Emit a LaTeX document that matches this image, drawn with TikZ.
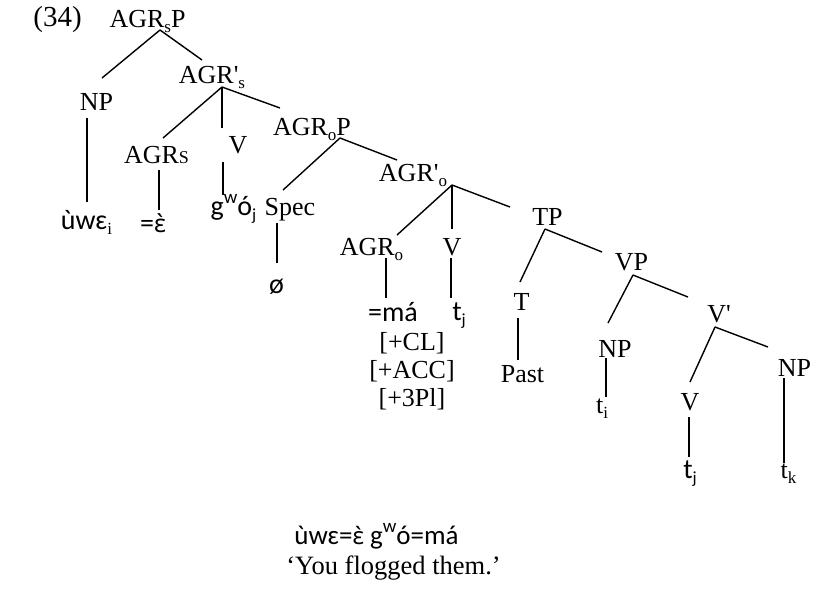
\documentclass[tikz,border=0pt]{standalone}
\usepackage{fontspec}
\setmainfont{Liberation Serif}
\newfontfamily\ipafont{Carlito}
\newfontfamily\markfont[Scale=0.88]{Noto Sans}
\usetikzlibrary{calc}
\newcommand\lsub[1]{\raisebox{-0.2em}{\fontsize{17}{17}\selectfont #1}}
\newcommand\wsup{\raisebox{0.42em}{\fontsize{19}{19}\selectfont w}}
\newcommand\egrave{{\markfont ɛ̀}}
\newcommand\pr{\textquotesingle}
\begin{document}
\begin{tikzpicture}[x=1pt,y=-1pt,
  lab/.style={inner sep=0pt,anchor=base,font=\fontsize{26}{30}\selectfont},
  lex/.style={inner sep=0pt,anchor=base,font=\fontsize{28}{32}\selectfont\ipafont},
  edge/.style={line width=1.4pt}]
\useasboundingbox (0,0) rectangle (827,606);
% labels
\node[lab,font=\fontsize{29}{32}\selectfont] (ex) at (57.5,26) {(34)};
\node[lab] (agrsp) at (147.5,27) {AGR\lsub{s}P};
\node[lab] (np1) at (96.5,110) {NP};
\node[lab] (agrsb) at (212,83) {AGR\pr\lsub{s}};
\node[lab] (agrs) at (156.5,163) {AGR{\fontsize{18}{18}\selectfont S}};
\node[lab] (v1) at (238,153) {V};
\node[lab] (agrop) at (312,135) {AGR\lsub{o}P};
\node[lex] (uwe) at (86.5,229) {ùwɛ{\rmfamily\lsub{i}}};
\node[lex] (eps) at (153,232) {=\egrave};
\node[lex] (gwo) at (233.5,215) {g\wsup ó\lsub{j}};
\node[lab] (spec) at (290,215) {Spec};
\node[lex] (oslash) at (276.5,293) {ø};
\node[lab] (agrob) at (413,181) {AGR\pr\lsub{o}};
\node[lab] (agro) at (371.5,255) {AGR\lsub{o}};
\node[lab] (v2) at (452,255) {V};
\node[lex] (ma) at (393,321) {=má};
\node[lex] (tj1) at (459,320) {t\lsub{j}};
\node[lab,anchor=north,align=center,font=\fontsize{26}{28}\selectfont] (feats) at (412,332) {{[+CL]}\\{[+ACC]}\\{[+3Pl]}};
\node[lab] (tp) at (547.5,225) {TP};
\node[lab] (t) at (521.5,310) {T};
\node[lab] (past) at (522.5,382) {Past};
\node[lab] (vp) at (631.5,270) {VP};
\node[lab] (np2) at (615,357) {NP};
\node[lab] (ti) at (602,413) {t\lsub{i}};
\node[lab] (vbar) at (719,322) {V\pr};
\node[lab] (v3) at (690,410) {V};
\node[lab] (np3) at (794.5,376) {NP};
\node[lex] (tj2) at (690,478) {t\lsub{j}};
\node[lab] (tk) at (788.5,478) {t\lsub{k}};
\node[lex,font=\fontsize{27}{32}\selectfont\ipafont] (gloss) at (376.5,544) {ùwɛ=\egrave{} g\wsup ó=má};
\node[lab,font=\fontsize{26.5}{30}\selectfont] (trans) at (393.5,574) {‘You flogged them.’};
% edges
\draw[edge] ($(agrsp.base)+(12.5,3)$) -- ($(np1.base)+(5.5,-32)$);
\draw[edge] ($(agrsp.base)+(12.5,3)$) -- ($(agrsb.base)+(-10,-23)$);
\draw[edge] ($(np1.base)+(-9.5,8)$) -- ($(uwe.base)+(0.5,-27)$);
\draw[edge] ($(agrsb.base)+(10,4)$) -- ($(agrs.base)+(6.5,-25)$);
\draw[edge] ($(agrsb.base)+(10,4)$) -- ($(v1.base)+(-16,-25)$);
\draw[edge] ($(agrsb.base)+(10,4)$) -- ($(agrop.base)+(-32,-27)$);
\draw[edge] ($(agrs.base)+(2.5,7)$) -- ($(eps.base)+(6,-22)$);
\draw[edge] ($(v1.base)+(-15,9)$) -- ($(gwo.base)+(-10.5,-20)$);
\draw[edge] ($(agrop.base)+(28,3)$) -- ($(spec.base)+(-7,-25)$);
\draw[edge] ($(agrop.base)+(28,3)$) -- ($(agrob.base)+(-16,-21)$);
\draw[edge] ($(spec.base)+(-13,8)$) -- ($(oslash.base)+(0.5,-30)$);
\draw[edge] ($(agrob.base)+(39,4)$) -- ($(agro.base)+(25.5,-20)$);
\draw[edge] ($(agrob.base)+(39,4)$) -- ($(v2.base)+(0,-26)$);
\draw[edge] ($(agrob.base)+(39,4)$) -- ($(tp.base)+(-37.5,-18)$);
\draw[edge] ($(agro.base)+(14.5,3)$) -- ($(ma.base)+(-7,-23)$);
\draw[edge] ($(v2.base)+(-1,3)$) -- ($(tj1.base)+(-8,-22)$);
\draw[edge] ($(tp.base)+(-2.5,4)$) -- ($(t.base)+(-1.5,-28)$);
\draw[edge] ($(tp.base)+(-2.5,4)$) -- ($(vp.base)+(-29.5,-18)$);
\draw[edge] ($(t.base)+(-3.5,8)$) -- ($(past.base)+(-4.5,-22)$);
\draw[edge] ($(vp.base)+(1.5,5)$) -- ($(np2.base)+(-7,-34)$);
\draw[edge] ($(vp.base)+(1.5,5)$) -- ($(vbar.base)+(-31,-25)$);
\draw[edge] ($(np2.base)+(-9,1)$) -- ($(ti.base)+(4,-16)$);
\draw[edge] ($(vbar.base)+(-4,5)$) -- ($(v3.base)+(0,-28)$);
\draw[edge] ($(vbar.base)+(-4,5)$) -- ($(np3.base)+(-26.5,-29)$);
\draw[edge] ($(v3.base)+(-1,7)$) -- ($(tj2.base)+(-1,-21)$);
\draw[edge] ($(np3.base)+(-10.5,2)$) -- ($(tk.base)+(-4.5,-15)$);
\end{tikzpicture}
\end{document}
